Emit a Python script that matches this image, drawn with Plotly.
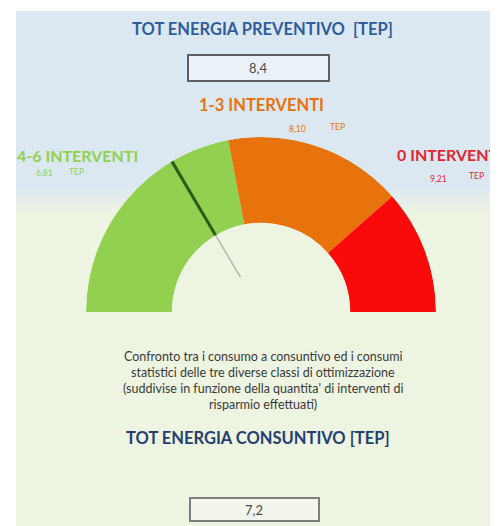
import plotly.graph_objects as go

# ---- data ----
classes = ["4-6 INTERVENTI", "1-3 INTERVENTI", "0 INTERVENTI"]
class_values = ["6,81", "8,10", "9,21"]          # TEP per class
band_edges_pct = [0, 44, 77, 100]                # gauge bands (percent of the half dial)
band_colors = ["#92d050", "#e8720c", "#fa0a0a"]
needle_pct = 33                                  # needle position (percent of the half dial)
tot_preventivo = "8,4"
tot_consuntivo = "7,2"
description = [
    "Confronto tra i consumo a consuntivo ed i consumi",
    "statistici delle tre diverse classi di ottimizzazione",
    "(suddivise in funzione della quantita' di interventi di",
    "risparmio effettuati)",
]

W, H = 498, 526
def px(x): return x / W
def py(y): return 1 - y / H

def pct_to_theta(p):
    return 180 - p * 1.8

fig = go.Figure()

# gauge bands
thetas, widths = [], []
for a, b in zip(band_edges_pct[:-1], band_edges_pct[1:]):
    t0, t1 = pct_to_theta(a), pct_to_theta(b)
    thetas.append((t0 + t1) / 2)
    widths.append(abs(t0 - t1))
fig.add_trace(go.Barpolar(
    theta=thetas, width=widths, r=[0.49] * 3, base=[0.51] * 3,
    marker=dict(color=band_colors, line=dict(width=0)),
    hoverinfo="skip", showlegend=False,
))
# needle
nt = pct_to_theta(needle_pct)
fig.add_trace(go.Scatterpolar(r=[0.23, 0.51], theta=[nt, nt], mode="lines",
                              line=dict(color="#b2b6ae", width=1.5),
                              hoverinfo="skip", showlegend=False))
fig.add_trace(go.Scatterpolar(r=[0.51, 1.0], theta=[nt, nt], mode="lines",
                              line=dict(color="#2f5a14", width=3),
                              hoverinfo="skip", showlegend=False))

shapes = []
# background: light blue top, pale green bottom, with soft transition
blue = (219, 232, 242)
green = (238, 244, 226)
shapes.append(dict(type="rect", xref="paper", yref="paper", x0=px(8), x1=1, y0=py(176), y1=py(3),
                   fillcolor="rgb(%d,%d,%d)" % blue, line=dict(width=0), layer="below"))
steps = 8
for i in range(steps):
    f = (i + 0.5) / steps
    c = tuple(int(blue[k] + (green[k] - blue[k]) * f) for k in range(3))
    y0 = 176 + i * 30 / steps
    shapes.append(dict(type="rect", xref="paper", yref="paper", x0=px(8), x1=1,
                       y0=py(y0 + 30 / steps + 0.5), y1=py(y0),
                       fillcolor="rgb(%d,%d,%d)" % c, line=dict(width=0), layer="below"))
shapes.append(dict(type="rect", xref="paper", yref="paper", x0=px(8), x1=1, y0=0, y1=py(206),
                   fillcolor="rgb(%d,%d,%d)" % green, line=dict(width=0), layer="below"))
# value boxes
shapes.append(dict(type="rect", xref="paper", yref="paper", x0=px(180), x1=px(321), y0=py(73), y1=py(47),
                   fillcolor="#eaf2f8", line=dict(color="#5a5f63", width=2), layer="below"))
shapes.append(dict(type="rect", xref="paper", yref="paper", x0=px(182), x1=px(311), y0=py(513), y1=py(490),
                   fillcolor="#f2f6ea", line=dict(color="#7d807a", width=2), layer="below"))

ann = []
def t(x, y, s, size, color, bold=False, anchor="center"):
    ann.append(dict(xref="paper", yref="paper", x=px(x), y=py(y), text=("<b>%s</b>" % s) if bold else s,
                    showarrow=False, xanchor=anchor, yanchor="middle",
                    font=dict(family="Lato, Carlito, sans-serif", size=size, color=color)))

t(254, 21, "TOT ENERGIA PREVENTIVO  [TEP]", 16.5, "#2f5d9e", bold=True)
t(250, 60, tot_preventivo, 13, "#4a4a4a")
t(253, 97, classes[1], 16.5, "#e8720c", bold=True)
t(289, 121, class_values[1], 8.5, "#e8720c")
t(329, 119, "TEP", 8.5, "#e8720c")
t(7, 147, classes[0], 16, "#92d050", bold=True, anchor="left")
t(36, 165, class_values[0], 8.5, "#92d050")
t(68, 164, "TEP", 8.5, "#92d050")
t(387, 146, classes[2], 16, "#e0262f", bold=True, anchor="left")
t(430, 171, class_values[2], 8.5, "#e0262f")
t(468, 168, "TEP", 8.5, "#e0262f")
for i, line in enumerate(description):
    t(255, 348 + i * 16, line, 12.5, "#3a3a3a")
t(250, 430, "TOT ENERGIA CONSUNTIVO [TEP]", 16.5, "#243f70", bold=True)
t(246, 502, tot_consuntivo, 13, "#4a4a4a")

fig.update_layout(
    width=W, height=H, margin=dict(l=0, r=0, t=0, b=0),
    paper_bgcolor="white", plot_bgcolor="rgba(0,0,0,0)",
    shapes=shapes, annotations=ann, showlegend=False,
    polar=dict(
        domain=dict(x=[px(78), px(428)], y=[py(304), py(129)]),
        sector=[0, 180], bgcolor="rgba(0,0,0,0)", hole=0,
        radialaxis=dict(visible=False, range=[0, 1], showgrid=False),
        angularaxis=dict(visible=False, showgrid=False, rotation=0, direction="counterclockwise"),
    ),
)
fig.write_html("out.html")
